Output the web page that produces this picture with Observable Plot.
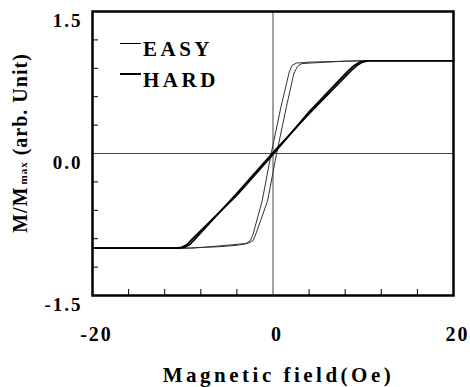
<!DOCTYPE html>
<html><head><meta charset="utf-8">
<script src="https://cdn.jsdelivr.net/npm/d3@7"></script>
<script src="https://cdn.jsdelivr.net/npm/@observablehq/plot@0.6"></script>
<style>
body{margin:0;background:#fff}
#wrap{position:relative;width:470px;height:387px;font-family:"Liberation Serif","Times New Roman",serif}
#chart [aria-label$="tick label"]{letter-spacing:2px}
.leg-line{position:absolute;left:120px;width:21px;background:#000}
.leg-text{position:absolute;left:143px;font-size:21px;line-height:21px;font-weight:bold;letter-spacing:3.5px;color:#000;white-space:nowrap}
</style>
</head><body>
<div id="wrap"><div id="chart"></div></div>
<script>
// EASY axis loop: ascending and descending branches (field in Oe, M/Mmax)
const easyUpH   = [-20, -10, -6, -4, -2.8, -2.2, -1.9, -0.6, 0.4, 1.5, 2.3, 2.7, 3.2, 5, 8, 10.5, 20];
const easyUpM   = [-1.0, -1.0, -0.985, -0.97, -0.95, -0.92, -0.85, -0.5, 0, 0.5, 0.84, 0.92, 0.95, 0.96, 0.975, 0.98, 0.98];
const easyDownH = [20, 10, 6, 4, 2.6, 2.1, 1.8, 0.9, -0.2, -1.2, -2.2, -2.5, -3.0, -4, -7, -9, -20];
const easyDownM = [0.98, 0.98, 0.97, 0.965, 0.955, 0.93, 0.86, 0.5, 0, -0.5, -0.85, -0.92, -0.95, -0.96, -0.985, -1.0, -1.0];
// HARD axis loop
const hardUpH   = [-20, -10.5, -9.8, -9.2, -8.6, -4, 0, 4, 8.6, 9.3, 9.9, 10.6, 20];
const hardUpM   = [-1.0, -1.0, -0.99, -0.96, -0.9, -0.42, 0.01, 0.42, 0.87, 0.93, 0.965, 0.98, 0.98];
const hardDownH = [20, 10.3, 9.6, 9.0, 8.3, 4, 0, -4, -8.9, -9.5, -10.1, -10.8, -20];
const hardDownM = [0.98, 0.98, 0.965, 0.93, 0.87, 0.44, -0.01, -0.44, -0.9, -0.96, -0.99, -1.0, -1.0];
// ticks
const yLabelTicks = [-1.5, 0, 1.5];
const yMinorTicks = [-1.2, -0.9, -0.6, -0.3, 0.3, 0.6, 0.9, 1.2];
const xLabelTicks = [-20, 0, 20];
const xMinorTicks = [-16, -12, -8, -4, 4, 8, 12, 16];
const legendLabels = ["EASY", "HARD"];
const xTitle = "Magnetic field(Oe)";

const toRows = (hs, ms) => hs.map((h, i) => ({h, m: ms[i]}));
const font = "'Liberation Serif','Times New Roman',serif";

const chart = Plot.plot({
  width: 470, height: 387,
  marginLeft: 92, marginRight: 17, marginTop: 11, marginBottom: 92,
  x: {domain: [-20, 20]},
  y: {domain: [-1.5, 1.5]},
  style: {fontFamily: font, background: "#fff", color: "#000"},
  marks: [
    Plot.ruleX([0], {stroke: "#444", strokeWidth: 1}),
    Plot.ruleY([0], {stroke: "#444", strokeWidth: 1}),
    Plot.line(toRows(easyUpH, easyUpM), {x: "h", y: "m", stroke: "#333", strokeWidth: 1}),
    Plot.line(toRows(easyDownH, easyDownM), {x: "h", y: "m", stroke: "#333", strokeWidth: 1}),
    Plot.line(toRows(hardUpH, hardUpM), {x: "h", y: "m", stroke: "#000", strokeWidth: 1.7}),
    Plot.line(toRows(hardDownH, hardDownM), {x: "h", y: "m", stroke: "#000", strokeWidth: 1.7}),
    Plot.axisY(yMinorTicks, {tickSize: -6, tickFormat: () => "", label: null}),
    Plot.axisY(yLabelTicks, {tickSize: 0, tickPadding: 10, tickFormat: d => d.toFixed(1),
      fontSize: 19, fontWeight: "bold", dy: 9, label: null}),
    Plot.axisX(xMinorTicks, {tickSize: -6, tickFormat: () => "", label: null}),
    Plot.axisX(xLabelTicks, {tickSize: 0, tickPadding: 31, tickFormat: d => String(d),
      fontSize: 20, fontWeight: "bold", dx: 4, label: null}),
    Plot.frame({stroke: "#000", strokeWidth: 2.5})
  ]
});
document.getElementById("chart").appendChild(chart);

const xs = chart.scale("x"), ys = chart.scale("y");
const svg = d3.select(chart);
// x title
svg.append("text")
  .attr("x", xs.apply(0) + 6).attr("y", 382)
  .attr("text-anchor", "middle")
  .style("font-family", font).style("font-size", "21px").style("font-weight", "bold")
  .style("letter-spacing", "3.5px").attr("fill", "#000")
  .text(xTitle);
// y title with subscript
const yt = svg.append("text")
  .attr("transform", `translate(27,${ys.apply(0) - 10}) rotate(-90)`)
  .attr("text-anchor", "middle")
  .style("font-family", font).style("font-size", "20px").style("font-weight", "bold")
  .style("letter-spacing", "1px").attr("fill", "#000");
yt.append("tspan").text("M/M");
yt.append("tspan").attr("dx", 2).style("font-size", "11px").text("max");
yt.append("tspan").text(" (arb. Unit)");

// legend
const wrap = document.getElementById("wrap");
const thick = [1, 2];
legendLabels.forEach((lab, i) => {
  const top = 39.4 + 31 * i;
  const ln = document.createElement("div");
  ln.className = "leg-line";
  ln.style.top = (top + 3.7 - thick[i] / 2) + "px";
  ln.style.height = thick[i] + "px";
  wrap.appendChild(ln);
  const tx = document.createElement("div");
  tx.className = "leg-text";
  tx.style.top = top + "px";
  tx.textContent = lab;
  wrap.appendChild(tx);
});
</script>
</body></html>
